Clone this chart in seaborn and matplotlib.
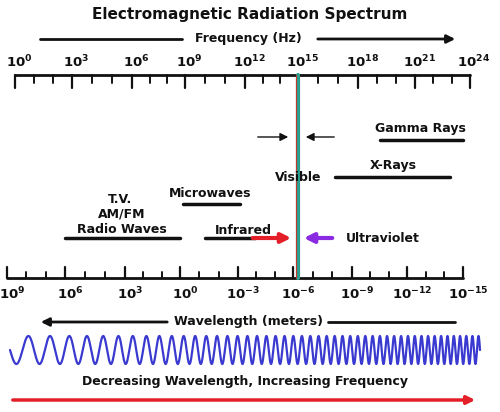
import numpy as np
import pandas as pd
import matplotlib
matplotlib.use("Agg")
import matplotlib.pyplot as plt
import seaborn as sns

sns.set_theme(style="white")
plt.rcParams['font.family'] = ['DejaVu Sans']

freq_exp = ["0", "3", "6", "9", "12", "15", "18", "21", "24"]
wave_exp = ["9", "6", "3", "0", "-3", "-6", "-9", "-12", "-15"]
freq_x = [15, 72, 132, 185, 245, 298, 358, 415, 470]
wave_x = [7, 65, 125, 180, 238, 293, 352, 407, 463]
bands = ["Gamma Rays", "X-Rays", "Microwaves", "Radio Waves", "Infrared"]
band_start = [380, 335, 183, 65, 205]
band_end = [463, 450, 240, 180, 255]
band_y = [140, 177, 204, 238, 238]

fig = plt.figure(figsize=(5, 4.12), dpi=100)
ax = fig.add_axes([0, 0, 1, 1])
ax.set_xlim(0, 500); ax.set_ylim(412, 0); ax.axis("off")
fs = 9
bold = dict(fontweight="bold", fontsize=fs, ha="center", va="center", color="#111")

ax.text(250, 14, "Electromagnetic Radiation Spectrum", **{**bold, "fontsize": 11})
# frequency arrow
ax.plot([40, 182], [39, 39], color="#111", lw=2)
ax.annotate("", xy=(458, 39), xytext=(315, 39), arrowprops=dict(arrowstyle="-|>", color="#111", lw=2))
ax.text(248, 38, "Frequency (Hz)", **bold)

# top axis
ax.plot([freq_x[0], freq_x[-1]], [75, 75], color="#111", lw=2)
for i, x in enumerate(freq_x):
    ax.plot([x, x], [75, 88], color="#111", lw=1.6)
    ax.text(x + 4, 62, r"$\mathbf{10^{%s}}$" % freq_exp[i], **{**bold, "fontsize": 9.5})
    if i < len(freq_x) - 1:
        for k in (1, 2):
            xm = x + (freq_x[i+1] - x) * k / 3
            ax.plot([xm, xm], [75, 83], color="#111", lw=1.4)

# bottom axis
ax.plot([wave_x[0], wave_x[-1]], [278, 278], color="#111", lw=2)
for i, x in enumerate(wave_x):
    ax.plot([x, x], [278, 267], color="#111", lw=1.6)
    ax.text(x + 5, 294, r"$\mathbf{10^{%s}}$" % wave_exp[i], **{**bold, "fontsize": 9.5})
    if i < len(wave_x) - 1:
        for k in (1, 2):
            xm = x + (wave_x[i+1] - x) * k / 3
            ax.plot([xm, xm], [278, 272], color="#111", lw=1.4)

# visible line
ax.plot([297.5, 297.5], [75, 278], color="#2a9d8f", lw=3)
ax.plot([295.5, 295.5], [75, 278], color="#c0392b", lw=0.8)
ax.annotate("", xy=(291, 137), xytext=(255, 137), arrowprops=dict(arrowstyle="-|>", color="#111", lw=1))
ax.annotate("", xy=(303, 137), xytext=(337, 137), arrowprops=dict(arrowstyle="-|>", color="#111", lw=1))

# bands
for s, e, y in zip(band_start, band_end, band_y):
    ax.plot([s, e], [y, y], color="#111", lw=2.5, solid_capstyle="round")
ax.annotate("", xy=(294, 238), xytext=(250, 238), arrowprops=dict(arrowstyle="-|>", color="#e3202a", lw=3, mutation_scale=14))
ax.annotate("", xy=(301, 238), xytext=(335, 238), arrowprops=dict(arrowstyle="-|>", color="#8a2be2", lw=3, mutation_scale=14))
ax.text(420, 128, "Gamma Rays", **bold)
ax.text(393, 165, "X-Rays", **bold)
ax.text(298, 177, "Visible", **bold)
ax.text(210, 193, "Microwaves", **bold)
ax.text(120, 199, "T.V.", **bold)
ax.text(122, 214, "AM/FM", **bold)
ax.text(122, 229, "Radio Waves", **bold)
ax.text(243, 230, "Infrared", **bold)
ax.text(383, 238, "Ultraviolet", **bold)

# wavelength arrow
ax.annotate("", xy=(38, 322), xytext=(170, 322), arrowprops=dict(arrowstyle="-|>", color="#111", lw=2))
ax.plot([328, 455], [322, 322], color="#111", lw=2)
ax.text(249, 322, "Wavelength (meters)", **bold)

# chirped wave
t = np.linspace(0, 1, 4000)
xw = 10 + 470 * t
phase = 2 * np.pi * (18 * t + 30 * t**2)
df = pd.DataFrame({"x": xw, "y": 350 + 14 * np.sin(phase)})
sns.lineplot(data=df, x="x", y="y", ax=ax, color="#3a3ad0", lw=1.6, sort=False)
ax.set_xlim(0, 500); ax.set_ylim(412, 0); ax.axis("off")

ax.text(245, 382, "Decreasing Wavelength, Increasing Frequency", **bold)
ax.annotate("", xy=(478, 400), xytext=(10, 400), arrowprops=dict(arrowstyle="-|>", color="#e3202a", lw=2.5))

fig.savefig("out.png", dpi=100)
